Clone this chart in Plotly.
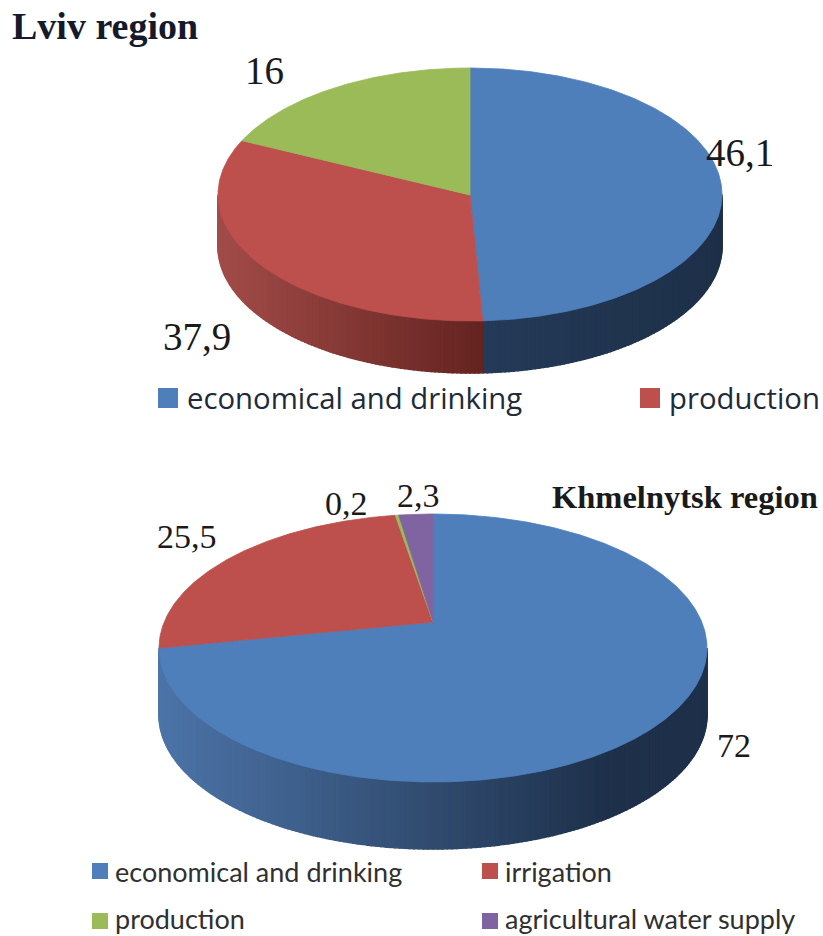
import numpy as np
import plotly.graph_objects as go

# printed data labels
lviv_categories = ["economical and drinking", "production", "other"]
lviv_labels = ["46,1", "37,9", "16"]
# slice shares as actually drawn (clockwise from 12 o'clock)
lviv_drawn = [49.2, 32.8, 18.0]

khm_categories = ["economical and drinking", "irrigation", "production", "agricultural water supply"]
khm_labels = ["72", "25,5", "0,2", "2,3"]
khm_drawn = [75.0, 22.8, 0.2, 2.0]

BLUE, RED, GREEN, PURPLE = "#4e7fbb", "#bd4f4c", "#9bbb59", "#8064a2"
SERIF, SANS = "Liberation Serif", "Open Sans"

W, H = 823, 936
fig = go.Figure()


def mix(c1, c2, f):
    f = min(max(f, 0), 1)
    return "rgb(%d,%d,%d)" % tuple(round(a + (b - a) * f) for a, b in zip(c1, c2))


def draw_pie(drawn, colors, cx, cy, rx, ry, depth, apex, shade):
    edges = np.cumsum([0] + list(drawn)) / sum(drawn) * 360.0
    ex = lambda t: cx + rx * np.sin(np.radians(t))
    ey = lambda t: cy - ry * np.cos(np.radians(t))
    # side wall: visible between 3 and 9 o'clock, shaded by horizontal position
    ts = np.arange(90, 270.01, 1.0)
    for t1, t2 in zip(ts[:-1], ts[1:]):
        tm = (t1 + t2) / 2
        i = int(np.searchsorted(edges, tm) - 1)
        col = shade(i, float(ex(tm)))
        xs = [ex(t1), ex(t2), ex(t2), ex(t1), ex(t1)]
        ys = [ey(t1), ey(t2), ey(t2) + depth, ey(t1) + depth, ey(t1)]
        fig.add_trace(go.Scatter(x=xs, y=ys, mode="lines", fill="toself", fillcolor=col,
                                 line=dict(color=col, width=1.5), hoverinfo="skip"))
    # top face
    for i, col in enumerate(colors):
        t = np.linspace(edges[i], edges[i + 1], max(int(edges[i + 1] - edges[i]) * 2, 3))
        xs = [apex[0]] + list(ex(t)) + [apex[0]]
        ys = [apex[1]] + list(ey(t)) + [apex[1]]
        fig.add_trace(go.Scatter(x=xs, y=ys, mode="lines", fill="toself", fillcolor=col,
                                 line=dict(color=col, width=0.8), hoverinfo="skip"))


def lviv_shade(i, x):
    if i == 1:
        return mix((162, 76, 73), (100, 35, 32), (x - 218) / (486 - 218))
    return mix((36, 58, 88), (30, 48, 72), (x - 486) / (722 - 486))


def khm_shade(i, x):
    return mix((76, 116, 168), (30, 48, 74), (x - 160) / (610 - 160))


draw_pie(lviv_drawn, [BLUE, RED, GREEN], 470, 194.5, 252, 126.5, 52, (470, 195), lviv_shade)
draw_pie(khm_drawn, [BLUE, RED, GREEN, PURPLE], 433, 648, 274, 134, 67, (433, 622), khm_shade)

# legend squares
fig.add_trace(go.Scatter(x=[168, 650], y=[398, 398], mode="markers", hoverinfo="skip",
                         marker=dict(symbol="square", size=20, color=[BLUE, RED], line_width=0)))
fig.add_trace(go.Scatter(x=[100, 490, 100, 490], y=[871, 871, 921, 921], mode="markers", hoverinfo="skip",
                         marker=dict(symbol="square", size=16, color=[BLUE, RED, GREEN, PURPLE], line_width=0)))


def note(text, x, y, size, family=SERIF, bold=False, color="#1a1a1a", anchor="left"):
    fig.add_annotation(x=x, y=y, text=f"<b>{text}</b>" if bold else text, showarrow=False,
                       xanchor=anchor, yanchor="middle", xref="x", yref="y",
                       font=dict(family=family, size=size, color=color))


note("Lviv region", 10, 26, 38, bold=True, color="#141a2b")
note("Khmelnytsk region", 550, 497, 32.5, bold=True)
note(lviv_labels[0], 704, 152, 39)
note(lviv_labels[1], 161, 336, 39)
note(lviv_labels[2], 243, 70, 39)
note(khm_labels[0], 715, 745, 34)
note(khm_labels[1], 155, 536, 34)
note(khm_labels[2], 323, 503, 34)
note(khm_labels[3], 395, 495, 34)
note(lviv_categories[0], 185, 398, 29.3, SANS, color="#202a38")
note(lviv_categories[1], 667, 398, 29.3, SANS, color="#202a38")
note(khm_categories[0], 113, 871, 27, "Lato", color="#303030")
note(khm_categories[1], 503, 871, 27, "Lato", color="#303030")
note(khm_categories[2], 113, 918, 27, "Lato", color="#303030")
note(khm_categories[3], 503, 918, 27, "Lato", color="#303030")

fig.update_layout(
    width=W, height=H, margin=dict(l=0, r=0, t=0, b=0), showlegend=False,
    paper_bgcolor="white", plot_bgcolor="white",
    xaxis=dict(range=[0, W], visible=False, fixedrange=True),
    yaxis=dict(range=[H, 0], visible=False, fixedrange=True),
)
fig.write_html("out.html", config={"displayModeBar": False},
               post_script="document.body.style.margin='0';")
